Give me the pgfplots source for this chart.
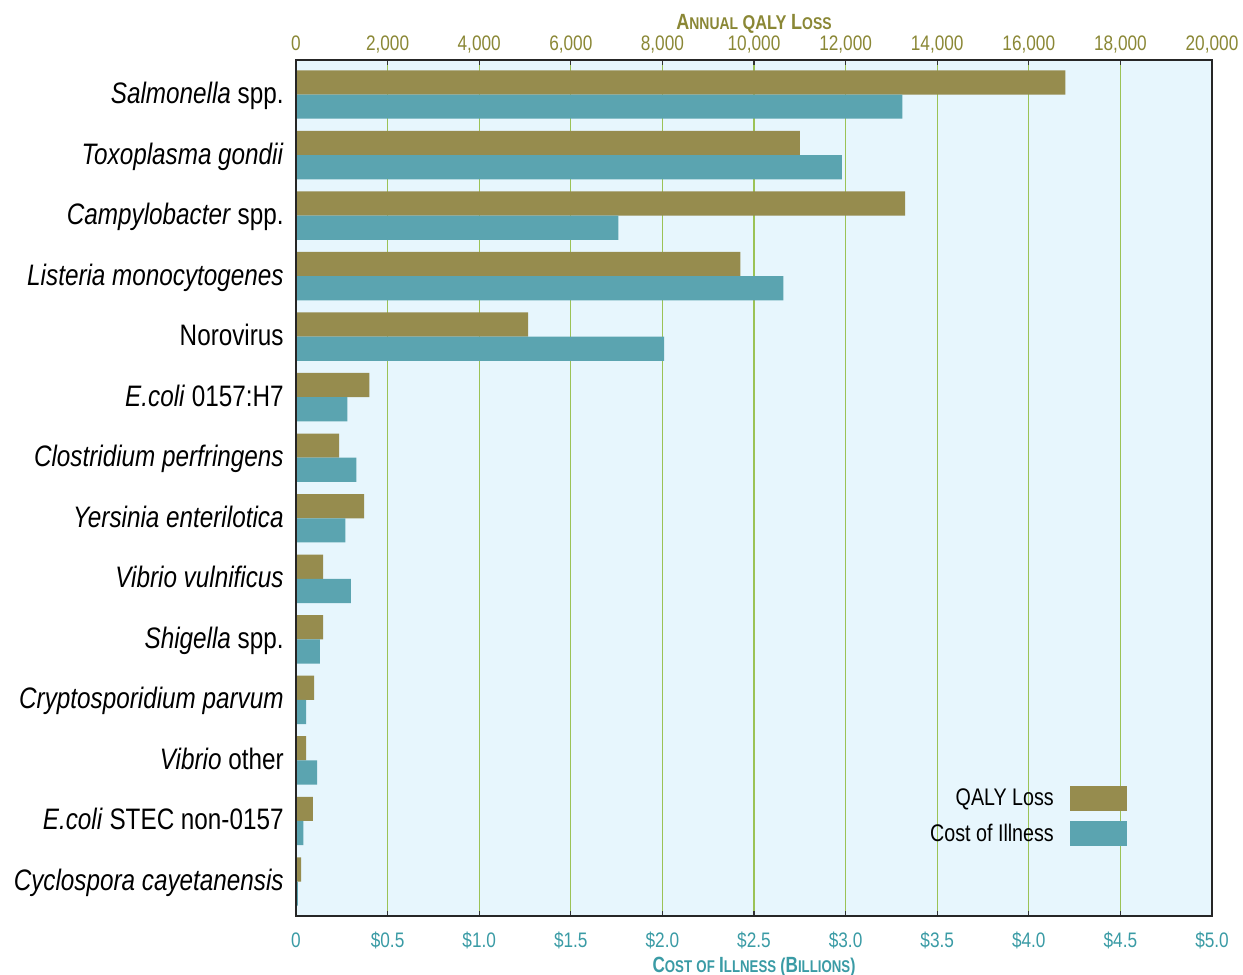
\documentclass[border=0pt]{standalone}
\usepackage{pgfplots}
\pgfplotsset{compat=1.18}
\usepackage{fontspec}
\setmainfont{Liberation Sans}[FakeStretch=0.82]
\definecolor{qaly}{HTML}{968C4E}
\definecolor{cost}{HTML}{5BA4B0}
\definecolor{qalytxt}{HTML}{8A8735}
\definecolor{costtxt}{HTML}{3A9BA5}
\definecolor{bgblue}{HTML}{E7F6FD}
\definecolor{gridgreen}{HTML}{9BC256}
\newcommand\SC[2]{{\fontsize{11bp}{12bp}\selectfont #1}{\fontsize{8.5bp}{10bp}\selectfont #2}}
\begin{document}
\begin{tikzpicture}
\useasboundingbox (-148bp,-29.5bp) rectangle (473.5bp,458bp);
\begin{axis}[
  scale only axis, width=458bp, height=428bp,
  xbar, bar width=0.4,
  xmin=0, xmax=20000, ymin=-0.57, ymax=13.57, y dir=reverse,
  scaled x ticks=false,
  axis background/.style={fill=bgblue},
  xmajorgrids, grid style={draw=gridgreen, line width=0.6bp},
  axis line style={draw=black!85, line width=1bp},
  xtick={0,2000,...,20000},
  xticklabels={0,{2,000},{4,000},{6,000},{8,000},{10,000},{12,000},{14,000},{16,000},{18,000},{20,000}},
  xtick pos=upper, xticklabel pos=upper,
  xtick style={draw=black!80, line width=0.6bp}, major tick length=2.5bp,
  xticklabel style={font=\fontsize{10.5bp}{12bp}\selectfont, text=qalytxt, anchor=base, inner sep=0pt, yshift=5bp},
  xlabel={\textbf{\SC{A}{NNUAL} QALY \SC{L}{OSS}}},
  xlabel style={at={(axis description cs:0.5,1)}, anchor=base, inner sep=0pt, yshift=15.5bp, text=qalytxt},
  ytick={0,...,13},
  yticklabels={{\textit{Salmonella} spp.},{\textit{Toxoplasma gondii}},{\textit{Campylobacter} spp.},{\textit{Listeria monocytogenes}},Norovirus,{\textit{E.coli} 0157:H7},{\textit{Clostridium perfringens}},{\textit{Yersinia enterilotica}},{\textit{Vibrio vulnificus}},{\textit{Shigella} spp.},{\textit{Cryptosporidium parvum}},{\textit{Vibrio} other},{\textit{E.coli} STEC non-0157},{\textit{Cyclospora cayetanensis}}},
  ytick style={draw=none},
  yticklabel style={font=\fontsize{14.8bp}{16bp}\selectfont, anchor=base east, inner sep=0pt, xshift=-3.5bp, yshift=-4.5bp},
]
\addplot[fill=qaly, draw=none, bar shift=-0.2] coordinates {
(16800,0) (11000,1) (13300,2) (9700,3) (5070,4) (1600,5) (940,6)
(1485,7) (590,8) (590,9) (395,10) (220,11) (370,12) (110,13)};
\end{axis}
\begin{axis}[
  scale only axis, width=458bp, height=428bp,
  xbar, bar width=0.4,
  xmin=0, xmax=5, ymin=-0.57, ymax=13.57, y dir=reverse,
  axis on top,
  axis line style={draw=black!85, line width=1bp},
  xtick={0,0.5,...,5},
  xticklabels={0,\$0.5,\$1.0,\$1.5,\$2.0,\$2.5,\$3.0,\$3.5,\$4.0,\$4.5,\$5.0},
  xtick pos=lower, xticklabel pos=lower,
  xtick style={draw=black!80, line width=0.6bp}, major tick length=2.5bp,
  xticklabel style={font=\fontsize{10.5bp}{12bp}\selectfont, text=costtxt, anchor=base, inner sep=0pt, yshift=-15.5bp},
  xlabel={\textbf{\SC{C}{OST} \SC{}{OF} \SC{I}{LLNESS} (\SC{B}{ILLIONS})}},
  xlabel style={at={(axis description cs:0.5,0)}, anchor=base, inner sep=0pt, yshift=-28bp, text=costtxt, xscale=0.95},
  ytick=\empty,
  legend plot pos=right,
  legend cell align=right,
  legend image code/.code={\fill[#1] (0bp,-6.25bp) rectangle (28.5bp,6.25bp);},
  legend style={draw=none, fill=none, at={(axis description cs:0.907,0.153)}, anchor=north east,
    font=\fontsize{12bp}{14bp}\selectfont, row sep=3.5bp, column sep=6bp, inner sep=0pt, outer sep=0pt},
]
\addlegendimage{fill=qaly, draw=none}
\addlegendentry{QALY Loss}
\addplot[fill=cost, draw=none, bar shift=0.2] coordinates {
(3.31,0) (2.98,1) (1.76,2) (2.66,3) (2.01,4) (0.28,5) (0.33,6)
(0.27,7) (0.30,8) (0.13,9) (0.055,10) (0.115,11) (0.04,12) (0.01,13)};
\addlegendentry{Cost of Illness}
\end{axis}
\end{tikzpicture}
\end{document}
